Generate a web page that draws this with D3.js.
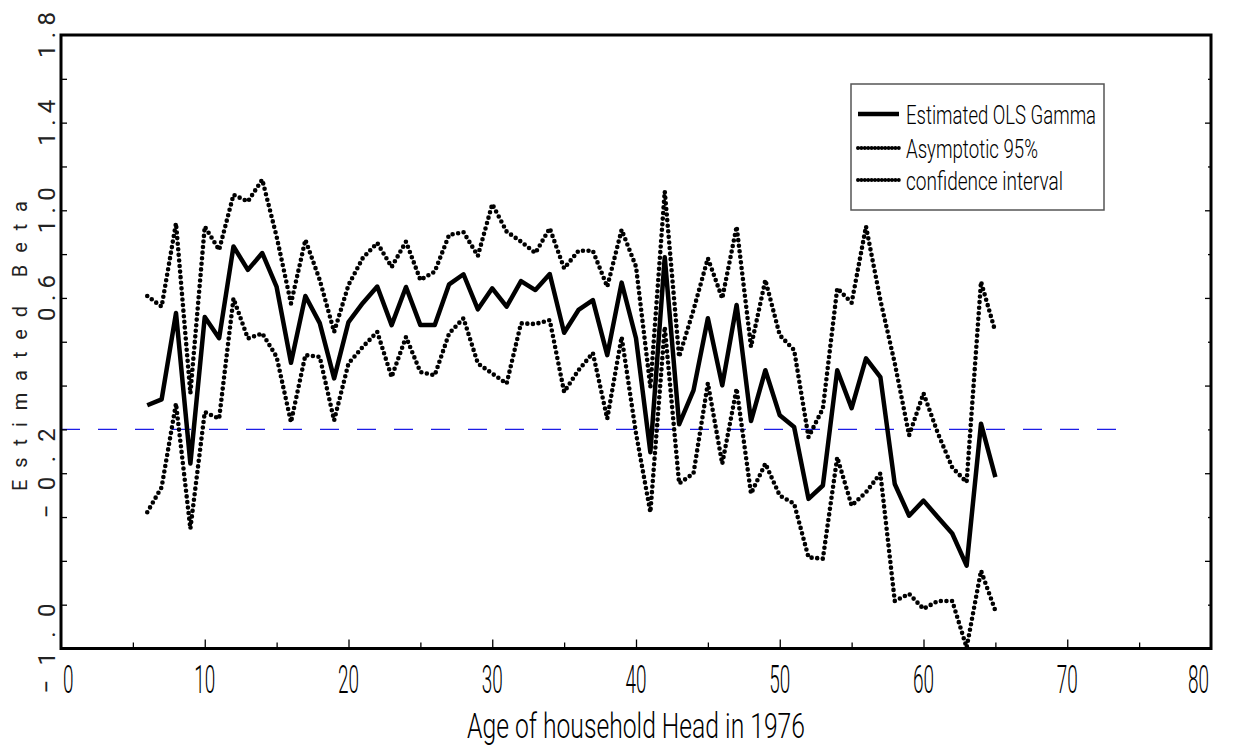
<!DOCTYPE html>
<html>
<head>
<meta charset="utf-8">
<script src="https://cdn.jsdelivr.net/npm/d3@7"></script>
<style>
  body { margin: 0; background: #fff; }
  svg { display: block; }
  text { font-family: Roboto, 'DejaVu Sans', sans-serif; font-weight: 300; fill: #000; }
  .rot { font-weight: 400; fill: #222; }
</style>
</head>
<body>
<div id="chart"></div>
<script>
// age of household head in 1976
var ages = [6, 7, 8, 9, 10, 11, 12, 13, 14, 15, 16, 17, 18, 19, 20, 21, 22, 23, 24, 25,
    26, 27, 28, 29, 30, 31, 32, 33, 34, 35, 36, 37, 38, 39, 40, 41, 42, 43, 44, 45,
    46, 47, 48, 49, 50, 51, 52, 53, 54, 55, 56, 57, 58, 59, 60, 61, 62, 63, 64, 65];

var olsGamma = [0.11, 0.137, 0.531, -0.156, 0.513, 0.416, 0.835, 0.728, 0.805, 0.65,
    0.304, 0.609, 0.485, 0.233, 0.49, 0.577, 0.652, 0.476, 0.65, 0.476,
    0.476, 0.662, 0.708, 0.548, 0.644, 0.56, 0.677, 0.636, 0.709, 0.441,
    0.545, 0.59, 0.339, 0.67, 0.416, -0.104, 0.786, 0.023, 0.178, 0.507,
    0.201, 0.568, 0.038, 0.27, 0.064, 0.011, -0.317, -0.256, 0.27, 0.097,
    0.324, 0.239, -0.249, -0.394, -0.325, -0.401, -0.475, -0.622, 0.026, -0.218];

var upper95 = [0.609, 0.56, 0.941, 0.165, 0.926, 0.819, 1.071, 1.04, 1.14, 0.88,
    0.575, 0.865, 0.682, 0.445, 0.659, 0.783, 0.851, 0.741, 0.857, 0.682,
    0.72, 0.888, 0.9, 0.792, 1.028, 0.903, 0.857, 0.805, 0.918, 0.735,
    0.815, 0.815, 0.651, 0.911, 0.743, 0.194, 1.086, 0.331, 0.545, 0.781,
    0.598, 0.926, 0.377, 0.682, 0.43, 0.362, -0.035, 0.095, 0.644, 0.578,
    0.926, 0.59, 0.302, -0.027, 0.165, -0.018, -0.174, -0.241, 0.674, 0.445];

var lower95 = [-0.378, -0.264, 0.118, -0.453, 0.079, 0.049, 0.598, 0.415, 0.438, 0.331,
    0.033, 0.339, 0.331, 0.041, 0.301, 0.377, 0.445, 0.239, 0.422, 0.262,
    0.247, 0.438, 0.507, 0.301, 0.255, 0.209, 0.484, 0.481, 0.499, 0.171,
    0.27, 0.349, 0.049, 0.422, -0.018, -0.378, 0.468, -0.247, -0.201, 0.211,
    -0.157, 0.186, -0.293, -0.156, -0.302, -0.339, -0.584, -0.59, -0.127, -0.348,
    -0.287, -0.201, -0.783, -0.751, -0.819, -0.783, -0.783, -0.996, -0.645, -0.828];

var xTickLabels = [0, 10, 20, 30, 40, 50, 60, 70, 80];
var yTickLabels = [1.8, 1.4, 1.0, 0.6, -0.2, -1.0];
var legendLabels = ['Estimated OLS Gamma', 'Asymptotic 95%', 'confidence interval'];

var width = 1233, height = 753;

var svg = d3.select('#chart').append('svg')
    .attr('width', width).attr('height', height);

var x = d3.scaleLinear().domain([0, 80]).range([61, 1211]);
var y = d3.scaleLinear().domain([-1, 1.8]).range([648.5, 35]);

// zero reference line
svg.append('line')
    .attr('x1', x(0)).attr('x2', x(74))
    .attr('y1', y(0)).attr('y2', y(0))
    .attr('stroke', '#1c1ce6').attr('stroke-width', 1.3)
    .attr('stroke-dasharray', '19 18');

function series(vals) {
    return ages.map(function (a, i) { return [a, vals[i]]; });
}
var line = d3.line()
    .x(function (d) { return x(d[0]); })
    .y(function (d) { return y(d[1]); });

[upper95, lower95].forEach(function (band) {
    svg.append('path')
        .attr('d', line(series(band)))
        .attr('fill', 'none').attr('stroke', '#000')
        .attr('stroke-width', 4.6)
        .attr('stroke-linecap', 'round')
        .attr('stroke-dasharray', '0 5.6');
});

svg.append('path')
    .attr('d', line(series(olsGamma)))
    .attr('fill', 'none').attr('stroke', '#000')
    .attr('stroke-width', 4.5)
    .attr('stroke-linejoin', 'round');

// ticks (inside the frame)
var xMinor = [5, 15, 25, 35, 45, 55, 65, 75];
var xMajor = [10, 20, 30, 40, 50, 60, 70];
svg.append('g').attr('transform', 'translate(0,' + y(-1) + ')')
    .call(d3.axisBottom(x).tickValues(xMajor).tickSize(-9).tickFormat(''))
    .call(function (g) { g.select('.domain').remove(); })
    .selectAll('line').attr('stroke-width', 1.3);
svg.append('g').attr('transform', 'translate(0,' + y(-1) + ')')
    .call(d3.axisBottom(x).tickValues(xMinor).tickSize(-6).tickFormat(''))
    .call(function (g) { g.select('.domain').remove(); })
    .selectAll('line').attr('stroke-width', 1.3);

var yAll = [1.6, 1.4, 1.2, 1.0, 0.8, 0.6, 0.4, 0.2, 0, -0.2, -0.4, -0.6, -0.8];
var yMajorR = [1.4, 1.0, 0.6, 0.2, -0.2, -0.6];
var yMinorR = [1.6, 1.2, 0.8, 0.4, 0, -0.4, -0.8];
svg.append('g').attr('transform', 'translate(' + x(0) + ',0)')
    .call(d3.axisRight(y).tickValues(yAll).tickSize(6).tickFormat(''))
    .call(function (g) { g.select('.domain').remove(); })
    .selectAll('line').attr('stroke-width', 1.3);
svg.append('g').attr('transform', 'translate(' + x(80) + ',0)')
    .call(d3.axisLeft(y).tickValues(yMajorR).tickSize(6).tickFormat(''))
    .call(function (g) { g.select('.domain').remove(); })
    .selectAll('line').attr('stroke-width', 1.3);
svg.append('g').attr('transform', 'translate(' + x(80) + ',0)')
    .call(d3.axisLeft(y).tickValues(yMinorR).tickSize(3).tickFormat(''))
    .call(function (g) { g.select('.domain').remove(); })
    .selectAll('line').attr('stroke-width', 1.3);

// frame
svg.append('rect')
    .attr('x', x(0)).attr('y', y(1.8))
    .attr('width', x(80) - x(0)).attr('height', y(-1) - y(1.8))
    .attr('fill', 'none').attr('stroke', '#000').attr('stroke-width', 3);

// x tick labels: tall, narrow digits
svg.append('g').selectAll('text')
    .data(xTickLabels).enter().append('text')
    .attr('x', function (d) { return d === 0 ? x(d) + 2 : d === 80 ? x(d) - 2 : x(d); })
    .attr('y', 693)
    .attr('text-anchor', function (d) { return d === 0 ? 'start' : d === 80 ? 'end' : 'middle'; })
    .attr('font-size', 38)
    .attr('textLength', function (d) { return String(d).length * 10.5; })
    .attr('lengthAdjust', 'spacingAndGlyphs')
    .text(function (d) { return d; });

svg.append('text')
    .attr('x', (467 + 805) / 2).attr('y', 738)
    .attr('text-anchor', 'middle')
    .attr('font-size', 35)
    .attr('textLength', 338)
    .attr('lengthAdjust', 'spacingAndGlyphs')
    .text('Age of household Head in 1976');

// y tick labels: rotated, widely spaced
svg.append('g').selectAll('text')
    .data(yTickLabels).enter().append('text')
    .attr('class', 'rot')
    .attr('transform', function (d) {
        var cy = Math.max(y(d), 28);
        return 'translate(55,' + cy + ') rotate(-90)';
    })
    .attr('text-anchor', 'middle')
    .attr('font-size', 24)
    .attr('textLength', function (d) { return d < 0 ? 90 : 46; })
    .attr('lengthAdjust', 'spacing')
    .text(function (d) { return (d < 0 ? '\u2212' : '') + Math.abs(d).toFixed(1); });

svg.append('text')
    .attr('class', 'rot')
    .attr('transform', 'translate(27,' + 346 + ') rotate(-90)')
    .attr('text-anchor', 'middle')
    .attr('font-size', 20)
    .attr('textLength', 290)
    .attr('lengthAdjust', 'spacing')
    .text('Estimated Beta');

// legend
var legend = svg.append('g');
legend.append('rect')
    .attr('x', 851).attr('y', 84).attr('width', 253).attr('height', 126)
    .attr('fill', '#fff').attr('stroke', '#555').attr('stroke-width', 1.5);

var legendRowY = [114, 148, 180];
var legendWidths = [190, 132, 157];
legendLabels.forEach(function (lab, i) {
    var ly = legendRowY[i];
    var s = legend.append('line')
        .attr('x1', 858).attr('x2', 899)
        .attr('y1', ly).attr('y2', ly)
        .attr('stroke', '#000');
    if (i === 0) {
        s.attr('stroke-width', 4.5);
    } else {
        s.attr('stroke-width', 4).attr('stroke-linecap', 'round').attr('stroke-dasharray', '0 3.4');
    }
    legend.append('text')
        .attr('x', 906).attr('y', ly + 10)
        .attr('font-size', 25)
        .attr('textLength', legendWidths[i])
        .attr('lengthAdjust', 'spacingAndGlyphs')
        .text(lab);
});
</script>
</body>
</html>
